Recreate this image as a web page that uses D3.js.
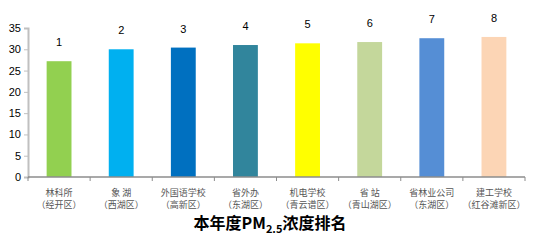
<!DOCTYPE html>
<html>
<head>
<meta charset="utf-8">
<script src="https://cdn.jsdelivr.net/npm/d3@7"></script>
<style>
  body { margin: 0; background: #fff; }
  svg { display: block; }
</style>
</head>
<body>
<div id="chart"></div>
<script>
// stations (name + district), value, rank
var names = ["林科所", "象 湖", "外国语学校", "省外办", "机电学校", "省 站", "省林业公司", "建工学校"];
var districts = ["（经开区）", "（西湖区）", "（高新区）", "（东湖区）", "（青云谱区）", "（青山湖区）", "（东湖区）", "（红谷滩新区）"];
var values = [27.2, 30.0, 30.4, 31.0, 31.4, 31.7, 32.6, 32.9];
var ranks = ["1", "2", "3", "4", "5", "6", "7", "8"];
var colors = ["#92d050", "#00b0f0", "#0070c0", "#31859c", "#ffff00", "#c4d79b", "#558ed5", "#fcd5b5"];
var yTicks = [0, 5, 10, 15, 20, 25, 30, 35];

var width = 533, height = 248;
var margin = { top: 28, right: 8, bottom: 71, left: 28 };

var x = d3.scaleBand()
  .domain(d3.range(names.length))
  .range([margin.left, width - margin.right])
  .paddingInner(0.6)
  .paddingOuter(0.3);

var y = d3.scaleLinear()
  .domain([0, 35])
  .range([height - margin.bottom, margin.top]);

var svg = d3.select("#chart").append("svg")
  .attr("width", width)
  .attr("height", height);

// y axis
var gy = svg.append("g")
  .attr("transform", `translate(${margin.left},0)`)
  .call(d3.axisLeft(y).tickValues(yTicks).tickSize(4).tickPadding(3));
gy.select(".domain").attr("stroke", "#c0c0c0").attr("stroke-width", 2);
gy.selectAll(".tick line").attr("stroke", "#c0c0c0");
gy.selectAll(".tick text")
  .attr("font-family", "Arial, 'Liberation Sans', sans-serif")
  .attr("font-size", 11)
  .attr("fill", "#000");

// bars
svg.append("g")
  .selectAll("rect")
  .data(values)
  .join("rect")
  .attr("x", (d, i) => x(i))
  .attr("y", d => y(d))
  .attr("width", x.bandwidth())
  .attr("height", d => y(0) - y(d))
  .attr("fill", (d, i) => colors[i]);

// rank labels
svg.append("g")
  .selectAll("text")
  .data(values)
  .join("text")
  .attr("x", (d, i) => x(i) + x.bandwidth() / 2)
  .attr("y", d => y(d) - 15)
  .attr("text-anchor", "middle")
  .attr("font-family", "Arial, 'Liberation Sans', sans-serif")
  .attr("font-size", 11)
  .attr("fill", "#000")
  .text((d, i) => ranks[i]);

// x axis line with ticks at band edges
var x0 = margin.left, x1 = width - margin.right, step = x.step();
var gx = svg.append("g");
gx.append("line")
  .attr("x1", x0).attr("x2", x1)
  .attr("y1", y(0)).attr("y2", y(0))
  .attr("stroke", "#8c8c8c").attr("stroke-width", 1.5);
gx.selectAll(".tk")
  .data(d3.range(names.length + 1))
  .join("line")
  .attr("class", "tk")
  .attr("x1", i => x0 + i * step).attr("x2", i => x0 + i * step)
  .attr("y1", y(0)).attr("y2", y(0) + 4)
  .attr("stroke", "#8c8c8c");

// category labels
var cat = svg.append("g")
  .attr("font-family", "'Noto Sans CJK SC', sans-serif")
  .attr("font-size", 9)
  .attr("fill", "#555")
  .attr("text-anchor", "middle");
cat.selectAll("text.n")
  .data(names)
  .join("text")
  .attr("class", "n")
  .attr("x", (d, i) => x(i) + x.bandwidth() / 2)
  .attr("y", y(0) + 19)
  .text(d => d);
cat.selectAll("text.d")
  .data(districts)
  .join("text")
  .attr("class", "d")
  .attr("x", (d, i) => x(i) + x.bandwidth() / 2)
  .attr("y", y(0) + 31)
  .text(d => d);

// title
var title = svg.append("text")
  .attr("x", 270)
  .attr("y", 229)
  .attr("text-anchor", "middle")
  .attr("font-family", "'Noto Sans CJK SC', sans-serif")
  .attr("font-size", 16)
  .attr("font-weight", "bold")
  .attr("fill", "#000");
title.append("tspan").text("本年度PM");
title.append("tspan").attr("font-size", 11).attr("dy", 4).text("2.5");
title.append("tspan").attr("dy", -4).text("浓度排名");
</script>
</body>
</html>
